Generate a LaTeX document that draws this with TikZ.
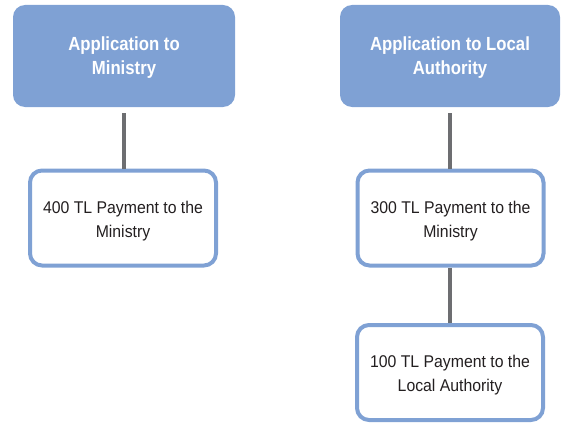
\documentclass[tikz,border=0pt]{standalone}
\usepackage{fontspec}
\setmainfont[FakeStretch=0.93]{Liberation Sans}
\newfontfamily\headfont[FakeStretch=0.88]{Liberation Sans Bold}
\usepackage{tikz}
\definecolor{boxblue}{HTML}{7FA1D4}
\definecolor{linegray}{HTML}{6D6E71}
\definecolor{textdark}{HTML}{231F20}
\tikzset{
	headbox/.style={rectangle,rounded corners=12pt,fill=boxblue,minimum width=222pt,minimum height=102pt,align=center,text=white,text height=42pt,text depth=4pt,font=\fontsize{19}{24}\headfont},
	paybox/.style={rectangle,rounded corners=12pt,draw=boxblue,line width=4pt,fill=white,minimum width=186pt,minimum height=95pt,align=center,text=textdark,text height=42pt,text depth=4pt,font=\fontsize{17}{24}\selectfont},
	link/.style={linegray,line width=4pt}
}
\begin{document}
\begin{tikzpicture}[x=1pt,y=-1pt]
		\useasboundingbox (0,0) rectangle (561,425);
		\node[headbox] (ministry) at (124,56) {Application to\\Ministry};
		\node[headbox,minimum width=220pt] (local) at (450,56) {Application to Local\\Authority};
		\node[paybox] (payleft) at (123,218) {400 TL Payment to the\\Ministry};
		\node[paybox] (payright) at (450.5,218) {300 TL Payment to the\\Ministry};
		\node[paybox] (paylocal) at (450,372.5) {100 TL Payment to the\\Local Authority};
		\draw[link] ([yshift=-6pt]ministry.south) -- (payleft.north -| ministry.south);
		\draw[link] ([yshift=-6pt]local.south) -- (payright.north -| local.south);
		\draw[link] (payright.south -| local.south) -- (paylocal.north -| local.south);
	\end{tikzpicture}
\end{document}
